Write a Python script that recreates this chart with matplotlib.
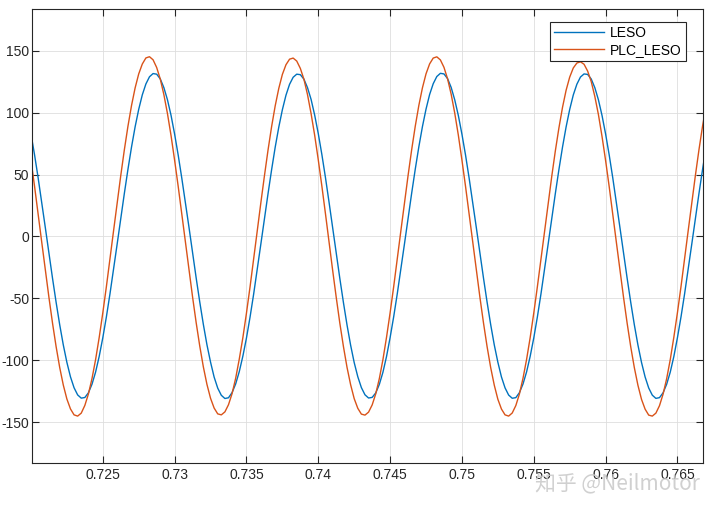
import numpy as np
import matplotlib
matplotlib.use("Agg")
import matplotlib.pyplot as plt

# sample times (0.25 ms steps) and the two signals
t = 0.72 + 0.00025 * np.arange(189)

leso = [
    # 0.7200 - 0.7300
    82.8, 65.9, 47.3, 27.5, 7.1, -13.5, -33.7, -53.1, -71.2, -87.5,
    -101.6, -113.3, -122.1, -127.9, -130.5, -130.0, -126.2, -119.2, -109.4, -96.8,
    -81.8, -64.9, -46.3, -26.5, -6.1, 14.5, 34.7, 54.1, 72.2, 88.5,
    102.6, 114.3, 123.1, 128.9, 131.5, 131.0, 127.2, 120.2, 110.4, 97.8,
    # 0.7300 - 0.7400
    82.6, 65.6, 47.0, 27.3, 7.4, -13.3, -33.5, -52.9, -71.0, -87.4,
    -101.4, -113.5, -122.4, -128.2, -130.8, -130.2, -126.0, -119.0, -109.1, -96.6,
    -82.0, -65.1, -46.6, -26.7, -6.3, 14.2, 34.4, 53.8, 72.0, 88.2,
    102.3, 114.0, 122.8, 128.5, 131.0, 130.6, 127.0, 120.1, 110.6, 97.9,
    # 0.7400 - 0.7500
    83.0, 66.1, 47.5, 27.6, 7.0, -13.7, -33.9, -53.3, -71.4, -87.7,
    -101.8, -113.2, -122.0, -127.8, -130.4, -129.9, -126.3, -119.4, -109.6, -96.9,
    -81.6, -64.7, -46.1, -26.3, -5.9, 14.7, 34.9, 54.3, 72.4, 88.7,
    102.8, 114.6, 123.3, 129.1, 131.7, 131.2, 127.4, 120.3, 110.2, 97.6,
    # 0.7500 - 0.7600
    82.5, 65.7, 47.1, 27.4, 7.2, -13.4, -33.6, -53.0, -71.1, -87.5,
    -101.5, -113.4, -122.2, -128.0, -130.6, -130.1, -126.1, -119.1, -109.3, -96.7,
    -81.9, -65.0, -46.4, -26.6, -6.2, 14.4, 34.6, 54.0, 72.1, 88.4,
    102.5, 114.2, 122.9, 128.7, 131.2, 130.8, 127.1, 120.1, 110.3, 97.7,
    # 0.7600 - 0.7670
    82.7, 65.8, 47.2, 27.4, 7.0, -13.6, -33.8, -53.2, -71.3, -87.6,
    -101.7, -113.4, -122.3, -128.1, -130.7, -130.1, -126.2, -119.3, -109.5, -96.9,
    -81.7, -64.8, -46.2, -26.4, -6.0, 14.6, 34.8, 54.2, 72.3,
]

plc_leso = [
    # 0.7200 - 0.7300
    61.7, 40.5, 18.2, -4.6, -27.2, -49.1, -69.9, -88.9, -105.7, -119.9,
    -131.2, -139.2, -144.0, -145.0, -142.6, -136.4, -127.1, -114.6, -99.3, -81.5,
    -61.7, -40.5, -18.2, 4.6, 27.2, 49.1, 69.9, 88.9, 105.7, 119.9,
    131.2, 139.2, 144.1, 145.1, 142.6, 136.4, 127.1, 114.6, 99.3, 81.5,
    # 0.7300 - 0.7400
    61.5, 40.3, 18.0, -4.8, -27.0, -48.9, -69.6, -88.5, -105.3, -119.4,
    -130.6, -138.5, -143.2, -144.0, -141.6, -135.8, -126.8, -114.4, -99.0, -81.7,
    -61.9, -40.7, -18.4, 4.4, 27.0, 48.8, 69.6, 88.6, 105.4, 119.5,
    130.8, 138.6, 143.1, 144.0, 141.6, 135.7, 126.9, 114.5, 99.1, 81.6,
    # 0.7400 - 0.7500
    61.8, 40.6, 18.3, -4.7, -27.3, -49.2, -70.0, -88.8, -105.6, -119.6,
    -130.9, -138.7, -143.4, -144.2, -141.8, -136.0, -127.0, -114.7, -99.4, -81.4,
    -61.6, -40.4, -18.1, 4.7, 27.3, 49.2, 70.0, 89.0, 105.8, 120.0,
    131.3, 139.3, 144.0, 145.0, 142.5, 136.5, 127.2, 114.8, 99.5, 81.7,
    # 0.7500 - 0.7600
    61.6, 40.4, 18.1, -4.5, -27.1, -49.0, -69.8, -88.9, -105.8, -120.0,
    -131.4, -139.3, -144.0, -145.0, -142.5, -136.5, -127.2, -114.5, -99.2, -81.6,
    -61.8, -40.6, -18.3, 4.3, 26.8, 48.4, 69.0, 87.6, 104.2, 118.0,
    128.6, 136.0, 140.0, 141.0, 139.0, 133.5, 125.0, 113.0, 98.4, 80.8,
    # 0.7600 - 0.7670
    61.3, 40.2, 18.0, -4.8, -27.4, -49.3, -70.1, -89.1, -105.9, -120.1,
    -131.5, -139.4, -144.2, -145.0, -142.6, -136.6, -127.3, -114.8, -99.4, -81.3,
    -61.5, -40.3, -18.0, 4.8, 27.4, 49.3, 70.1, 89.2, 105.9,
]

series_names = ["LESO", "PLC_LESO"]
xticks = [0.725, 0.73, 0.735, 0.74, 0.745, 0.75, 0.755, 0.76, 0.765]
yticks = [-150, -100, -50, 0, 50, 100, 150]

plt.rcParams["font.family"] = ["Liberation Sans", "DejaVu Sans"]
plt.rcParams["axes.unicode_minus"] = False
dark = (0.15, 0.15, 0.15)

fig = plt.figure(figsize=(7.2, 5.09), dpi=100)
ax = fig.add_axes([0.044, 0.091, 0.9324, 0.8908])

ax.plot(t, leso, color="#0072BD", lw=1.0, label=series_names[0])
ax.plot(t, plc_leso, color="#D95319", lw=1.0, label=series_names[1])

ax.set_xlim(0.72005, 0.76678)
ax.set_ylim(-182.6, 183.4)
ax.set_xticks(xticks)
ax.set_xticklabels(["%g" % v for v in xticks])
ax.set_yticks(yticks)

ax.grid(True, color=(0.87, 0.87, 0.87), lw=0.6)
ax.set_axisbelow(True)
for s in ax.spines.values():
    s.set_color(dark)
    s.set_linewidth(0.8)
ax.tick_params(direction="in", length=4.8, width=0.8, color=dark,
               labelcolor=dark, labelsize=10, top=True, right=True)
ax.tick_params(axis="x", pad=4)
ax.tick_params(axis="y", pad=1.8)

leg = ax.legend(loc="upper right", bbox_to_anchor=(0.9747, 0.972),
                borderaxespad=0, fancybox=False, fontsize=10,
                handlelength=3.6, handletextpad=0.45, borderpad=0.3,
                labelspacing=0.2, framealpha=1)
leg.get_frame().set_edgecolor(dark)
leg.get_frame().set_linewidth(0.8)

# watermark (sits over the tick labels, as in the original)
fig.text(0.743, 0.050, "知乎 @Neilmotor", fontsize=15, color="#c8c8c8",
         alpha=0.85, family=["Noto Sans CJK SC", "DejaVu Sans"], va="center")

fig.savefig("out.png", dpi=100)
